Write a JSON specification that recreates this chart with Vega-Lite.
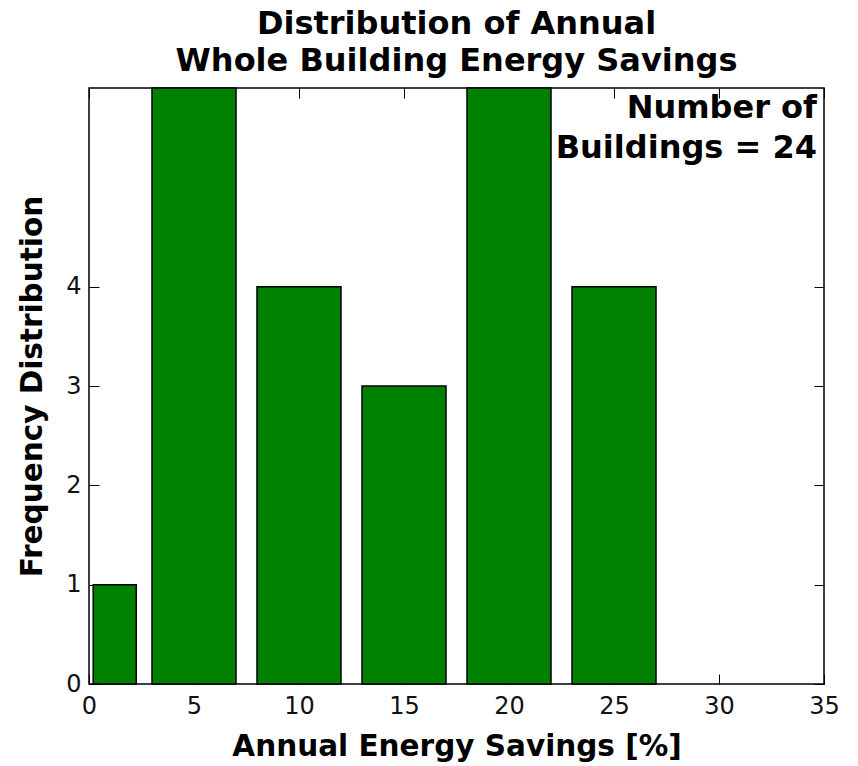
{
  "$schema": "https://vega.github.io/schema/vega-lite/v6.json",
  "width": 735,
  "height": 596,
  "autosize": {"type": "none"},
  "padding": {"left": 89, "top": 88, "right": 34, "bottom": 82},
  "background": "white",
  "title": {
    "text": ["Distribution of Annual", "Whole Building Energy Savings"],
    "font": "DejaVu Sans",
    "fontSize": 32,
    "fontWeight": "bold",
    "color": "#000",
    "anchor": "middle",
    "offset": 9,
    "lineHeight": 37
  },
  "config": {
    "view": {"stroke": "#000", "strokeWidth": 1.5},
    "axis": {
      "domain": false,
      "grid": false,
      "labelFont": "DejaVu Sans",
      "labelFontSize": 24,
      "labelColor": "#111",
      "labelFlush": false,
      "tickColor": "#000",
      "tickSize": -10,
      "tickWidth": 1,
      "titleFont": "DejaVu Sans",
      "titleFontSize": 29.5,
      "titleFontWeight": "bold",
      "titleColor": "#000"
    }
  },
  "data": {
    "values": [
      {"bin_start": 0.2, "bin_end": 2.25, "count": 1},
      {"bin_start": 3, "bin_end": 7, "count": 6},
      {"bin_start": 8, "bin_end": 12, "count": 4},
      {"bin_start": 13, "bin_end": 17, "count": 3},
      {"bin_start": 18, "bin_end": 22, "count": 6},
      {"bin_start": 23, "bin_end": 27, "count": 4}
    ]
  },
  "layer": [
    {
      "mark": {"type": "bar", "fill": "#008000", "stroke": "#000", "strokeWidth": 1.5},
      "encoding": {
        "x": {
          "field": "bin_start",
          "type": "quantitative",
          "scale": {"domain": [0, 35], "nice": false, "zero": false},
          "axis": {
            "values": [0, 5, 10, 15, 20, 25, 30, 35],
            "title": "Annual Energy Savings [%]",
            "labelPadding": 20,
            "titlePadding": 14
          }
        },
        "x2": {"field": "bin_end"},
        "y": {
          "field": "count",
          "type": "quantitative",
          "scale": {"domain": [0, 6], "nice": false},
          "axis": {
            "values": [0, 1, 2, 3, 4],
            "title": "Frequency Distribution",
            "labelPadding": 18,
            "titlePadding": 18
          }
        },
        "y2": {"datum": 0}
      }
    },
    {
      "data": {"values": [{}]},
      "mark": {
        "type": "text",
        "align": "right",
        "baseline": "top",
        "dx": -7,
        "dy": 5,
        "font": "DejaVu Sans",
        "fontSize": 32,
        "fontWeight": "bold",
        "color": "#000",
        "lineHeight": 40
      },
      "encoding": {
        "x": {
          "datum": 35,
          "type": "quantitative",
          "axis": {"orient": "top", "labels": false, "title": null, "values": [0, 5, 10, 15, 20, 25, 30, 35]}
        },
        "y": {
          "datum": 6,
          "type": "quantitative",
          "axis": {"orient": "right", "labels": false, "title": null, "values": [0, 1, 2, 3, 4]}
        },
        "text": {"value": ["Number of", "Buildings = 24"]}
      }
    }
  ],
  "resolve": {"axis": {"x": "independent", "y": "independent"}}
}
